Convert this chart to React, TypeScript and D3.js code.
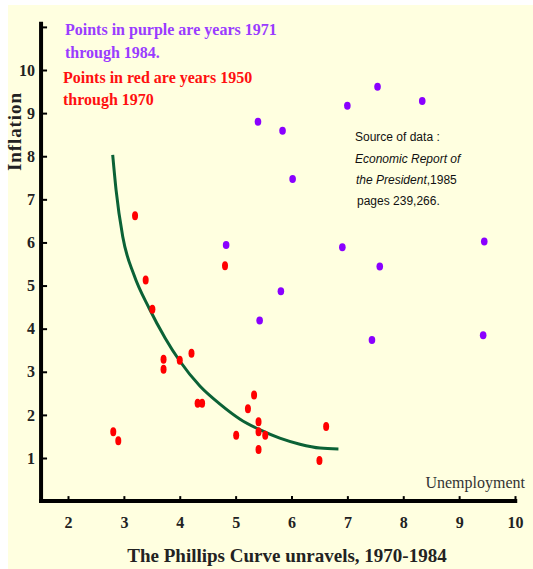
import React, { useEffect, useRef } from 'react';
import * as d3 from 'd3';

// [unemployment, inflation]
const redPoints: [number, number][] = [
  [2.81, 1.61], [2.9, 1.4], [3.2, 6.62], [3.39, 5.13], [3.51, 4.45],
  [3.71, 3.29], [3.71, 3.06], [4.0, 3.27], [4.21, 3.43], [4.32, 2.27],
  [4.4, 2.27], [4.81, 5.46], [5.01, 1.53], [5.22, 2.14], [5.33, 2.46],
  [5.41, 1.84], [5.41, 1.61], [5.41, 1.2], [5.53, 1.53], [6.5, 0.94],
  [6.62, 1.73],
];

const purplePoints: [number, number][] = [
  [7.54, 9.61], [7.0, 9.17], [8.34, 9.28], [5.4, 8.8], [5.84, 8.59],
  [6.02, 7.47], [4.83, 5.94], [6.91, 5.89], [9.45, 6.02], [7.58, 5.44],
  [7.44, 3.74], [9.43, 3.85], [5.81, 4.87], [5.43, 4.19],
];

// the green Phillips curve, traced point by point
const curvePoints: [number, number][] = [
  [2.8, 8.03], [2.86, 7.22], [2.98, 6.13], [3.18, 5.25], [3.45, 4.48],
  [3.74, 3.78], [4.0, 3.25], [4.36, 2.67], [4.72, 2.25], [5.08, 1.9],
  [5.44, 1.65], [5.79, 1.46], [6.15, 1.32], [6.51, 1.23], [6.84, 1.21],
];

const xTicks = [2, 3, 4, 5, 6, 7, 8, 9, 10];
const yTicks = [1, 2, 3, 4, 5, 6, 7, 8, 9, 10, 11];

const purpleNote = ['Points in purple are years 1971', 'through 1984.'];
const redNote = ['Points in red are years 1950', 'through 1970'];

const serif = '"Liberation Serif", "Times New Roman", serif';
const sans = '"Liberation Sans", Arial, sans-serif';

const App: React.FC = () => {
  const svgRef = useRef<SVGSVGElement>(null);
  const width = 533;
  const height = 569;

  useEffect(() => {
    if (!svgRef.current) return;
    const svg = d3.select(svgRef.current);
    svg.selectAll('*').remove();

    const x = d3.scaleLinear().domain([2, 10]).range([68, 515]);
    const y = d3.scaleLinear().domain([1, 10]).range([458, 70]);

    // background panel
    svg.append('rect')
      .attr('x', 8).attr('y', 5)
      .attr('width', width - 8).attr('height', height - 5)
      .attr('fill', '#ffffe0');

    // Y axis
    const yAxis = d3.axisLeft(y)
      .tickValues(yTicks)
      .tickSizeInner(-6)
      .tickSizeOuter(0)
      .tickPadding(6)
      .tickFormat(d => (+d > 10 ? '' : String(d)));

    const yG = svg.append('g')
      .attr('transform', `translate(${x(1.5) + 1},0)`)
      .call(yAxis);
    yG.select('.domain').remove();
    yG.selectAll('line').attr('stroke', '#000').attr('stroke-width', 2);
    yG.selectAll('text')
      .attr('fill', '#222')
      .style('font-family', serif)
      .style('font-size', '16px')
      .style('font-weight', 'bold');

    // X axis
    const xAxis = d3.axisBottom(x)
      .tickValues(xTicks)
      .tickSizeInner(-5)
      .tickSizeOuter(0)
      .tickPadding(16)
      .tickFormat(d => String(d));

    const xG = svg.append('g')
      .attr('transform', `translate(0,${y(0)})`)
      .call(xAxis);
    xG.select('.domain').remove();
    xG.selectAll('line').attr('stroke', '#000').attr('stroke-width', 2);
    xG.selectAll('text')
      .attr('fill', '#222')
      .style('font-family', serif)
      .style('font-size', '16px')
      .style('font-weight', 'bold');

    // thick axis lines
    svg.append('line')
      .attr('x1', x(1.5) + 1).attr('x2', x(1.5) + 1)
      .attr('y1', y(11.12)).attr('y2', y(0) + 2)
      .attr('stroke', '#000').attr('stroke-width', 4);
    svg.append('line')
      .attr('x1', x(1.5) - 1).attr('x2', x(10.04))
      .attr('y1', y(0)).attr('y2', y(0))
      .attr('stroke', '#000').attr('stroke-width', 4);

    // axis names
    svg.append('text')
      .attr('transform', `translate(21,132) rotate(-90)`)
      .attr('text-anchor', 'middle')
      .attr('fill', '#222')
      .attr('textLength', 78)
      .attr('lengthAdjust', 'spacing')
      .style('font-family', serif)
      .style('font-size', '19px')
      .style('font-weight', 'bold')
      .text('Inflation');

    svg.append('text')
      .attr('x', 525).attr('y', 488)
      .attr('text-anchor', 'end')
      .attr('fill', '#333')
      .style('font-family', serif)
      .style('font-size', '16px')
      .text('Unemployment');

    svg.append('text')
      .attr('x', 287).attr('y', 562)
      .attr('text-anchor', 'middle')
      .attr('fill', '#222')
      .style('font-family', serif)
      .style('font-size', '19px')
      .style('font-weight', 'bold')
      .text('The Phillips Curve unravels, 1970-1984');

    // notes
    purpleNote.forEach((t, i) => {
      svg.append('text')
        .attr('x', 65).attr('y', 35 + i * 23)
        .attr('fill', '#9a3cff')
        .style('font-family', serif)
        .style('font-size', '16px')
        .style('font-weight', 'bold')
        .text(t);
    });
    redNote.forEach((t, i) => {
      svg.append('text')
        .attr('x', 63).attr('y', 83 + i * 22)
        .attr('fill', '#ff1010')
        .style('font-family', serif)
        .style('font-size', '16px')
        .style('font-weight', 'bold')
        .text(t);
    });

    // source box
    const src = svg.append('g')
      .attr('fill', '#111')
      .style('font-family', sans)
      .style('font-size', '12px');
    src.append('text').attr('x', 355).attr('y', 141).text('Source of data :');
    src.append('text').attr('x', 355).attr('y', 163)
      .style('font-style', 'italic').text('Economic Report of');
    const l3 = src.append('text').attr('x', 356).attr('y', 184);
    l3.append('tspan').style('font-style', 'italic').text('the President');
    l3.append('tspan').text(',1985');
    src.append('text').attr('x', 357).attr('y', 205).text('pages 239,266.');

    // Phillips curve
    const line = d3.line<[number, number]>()
      .x(d => x(d[0]))
      .y(d => y(d[1]))
      .curve(d3.curveMonotoneX);

    svg.append('path')
      .datum(curvePoints)
      .attr('d', line)
      .attr('fill', 'none')
      .attr('stroke', '#0b6236')
      .attr('stroke-width', 3);

    // points
    svg.append('g').selectAll('ellipse')
      .data(redPoints)
      .enter()
      .append('ellipse')
      .attr('cx', d => x(d[0]))
      .attr('cy', d => y(d[1]))
      .attr('rx', 3)
      .attr('ry', 4.5)
      .attr('fill', '#ff0000');

    svg.append('g').selectAll('ellipse')
      .data(purplePoints)
      .enter()
      .append('ellipse')
      .attr('cx', d => x(d[0]))
      .attr('cy', d => y(d[1]))
      .attr('rx', 3.3)
      .attr('ry', 4)
      .attr('fill', '#8a00ff');
  }, []);

  return (
    <svg
      ref={svgRef}
      width={width}
      height={height}
      style={{ position: 'absolute', left: 0, top: 0, background: '#fff' }}
    />
  );
};

export default App;
